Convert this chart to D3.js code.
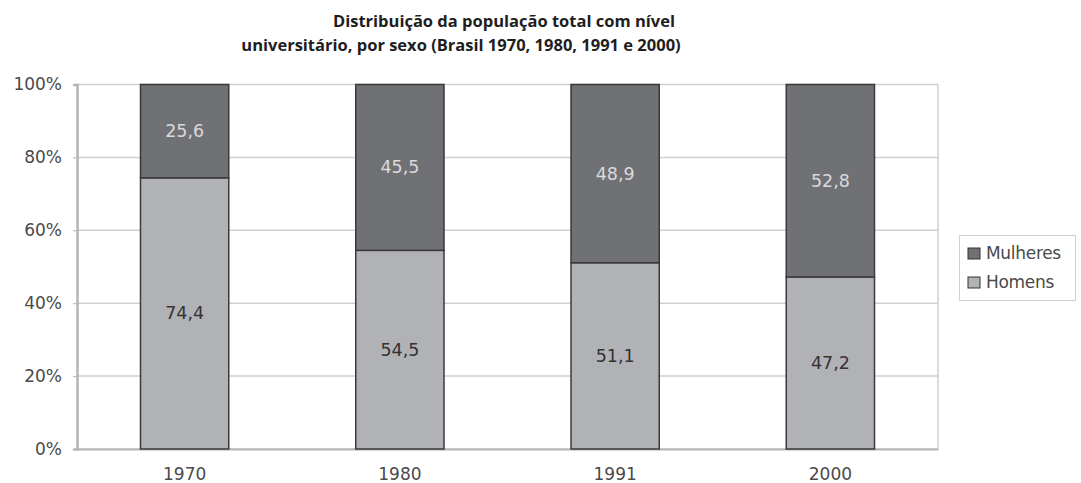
<!DOCTYPE html>
<html>
<head>
<meta charset="utf-8">
<script src="https://cdn.jsdelivr.net/npm/d3@7"></script>
<style>
  body { margin: 0; background: #fff; }
  svg text { font-family: "DejaVu Sans", sans-serif; }
</style>
</head>
<body>
<div id="graph"></div>
<script>
'use strict';

// data
const years = ['1970', '1980', '1991', '2000'];
const homens = [74.4, 54.5, 51.1, 47.2];
const mulheres = [25.6, 45.5, 48.9, 52.8];
const yTicks = [0, 20, 40, 60, 80, 100];
const seriesNames = ['Mulheres', 'Homens'];

const measurements = {
    width: 1081,
    height: 483,
    left: 77,
    right: 938,
    top: 84.5,
    bottom: 449
};

const colors = { Mulheres: '#707175', Homens: '#b1b2b6' };

let svg = d3.select('#graph')
    .append('svg')
    .attr('width', measurements.width)
    .attr('height', measurements.height);

// title
let title = svg.append('text')
    .attr('text-anchor', 'middle')
    .style('font-family', '"Open Sans", "Noto Sans", sans-serif')
    .style('font-weight', 'bold')
    .style('font-size', '16.5px')
    .attr('fill', '#1e1e1e');
title.append('tspan').attr('x', 504).attr('y', 27).text('Distribuição da população total com nível');
title.append('tspan').attr('x', 461).attr('y', 51).text('universitário, por sexo (Brasil 1970, 1980, 1991 e 2000)');

let xScale = d3.scaleBand()
    .domain(years)
    .range([measurements.left, measurements.right])
    .paddingInner(0.59)
    .paddingOuter(0.295);

let yScale = d3.scaleLinear()
    .domain([0, 100])
    .range([measurements.bottom, measurements.top]);

// gridlines
svg.append('g')
    .selectAll('line')
    .data(yTicks)
    .enter()
    .append('line')
    .attr('x1', measurements.left)
    .attr('x2', measurements.right)
    .attr('y1', d => yScale(d))
    .attr('y2', d => yScale(d))
    .attr('stroke', '#cfcfcf')
    .attr('stroke-width', 1.5);

// right border of plot area
svg.append('line')
    .attr('x1', measurements.right).attr('x2', measurements.right)
    .attr('y1', measurements.top).attr('y2', measurements.bottom)
    .attr('stroke', '#cfcfcf').attr('stroke-width', 1.5);

// y axis
let yAxis = d3.axisLeft(yScale)
    .tickValues(yTicks)
    .tickSize(4)
    .tickFormat(d => d + '%');
let yG = svg.append('g')
    .attr('transform', 'translate(' + measurements.left + ',0)')
    .call(yAxis);
yG.select('.domain').attr('stroke', '#b5b5b5').attr('stroke-width', 2.5);
yG.selectAll('.tick line').attr('stroke', '#b5b5b5');
yG.selectAll('.tick text')
    .attr('x', -15)
    .style('font-size', '17px')
    .style('font-family', '"DejaVu Sans", sans-serif')
    .attr('fill', '#4a4a4a');

// x axis labels
let xG = svg.append('g')
    .attr('transform', 'translate(0,' + measurements.bottom + ')')
    .call(d3.axisBottom(xScale).tickSize(0));
xG.select('.domain').attr('stroke', '#b5b5b5').attr('stroke-width', 2);
xG.selectAll('.tick text')
    .attr('dy', 0)
    .attr('y', 31)
    .style('font-size', '17px')
    .style('font-family', '"DejaVu Sans", sans-serif')
    .attr('fill', '#4a4a4a');

// bars
let rows = years.map((y, i) => ({ year: y, Homens: homens[i], Mulheres: mulheres[i] }));
let stacked = d3.stack().keys(['Homens', 'Mulheres'])(rows);

let layers = svg.append('g')
    .selectAll('g')
    .data(stacked)
    .enter()
    .append('g')
    .attr('fill', d => colors[d.key]);

layers.selectAll('rect')
    .data(d => d)
    .enter()
    .append('rect')
    .attr('x', d => xScale(d.data.year))
    .attr('width', xScale.bandwidth())
    .attr('y', d => yScale(d[1]))
    .attr('height', d => yScale(d[0]) - yScale(d[1]))
    .attr('stroke', '#3a3a3a')
    .attr('stroke-width', 1.5);

// value labels
stacked.forEach(function(layer) {
    svg.append('g')
        .selectAll('text')
        .data(layer)
        .enter()
        .append('text')
        .attr('x', d => xScale(d.data.year) + xScale.bandwidth() / 2)
        .attr('y', d => (yScale(d[0]) + yScale(d[1])) / 2 + 6)
        .attr('text-anchor', 'middle')
        .style('font-size', '17.5px')
        .attr('fill', layer.key === 'Mulheres' ? '#dadada' : '#333')
        .text(d => d3.format('.1f')(d.data[layer.key]).replace('.', ','));
});

// legend
let legend = svg.append('g');
legend.append('rect')
    .attr('x', 959.5).attr('y', 235.5)
    .attr('width', 116).attr('height', 65)
    .attr('fill', '#fff')
    .attr('stroke', '#d0d0d0');

let items = legend.selectAll('.item')
    .data(seriesNames)
    .enter()
    .append('g')
    .attr('transform', (d, i) => 'translate(968,' + (248 + i * 29) + ')');
items.append('rect')
    .attr('width', 12).attr('height', 11)
    .attr('fill', d => colors[d])
    .attr('stroke', '#333');
items.append('text')
    .attr('x', 18).attr('y', 11)
    .style('font-size', '17px')
    .style('letter-spacing', '-0.3px')
    .attr('fill', '#4a4a4a')
    .text(d => d);
</script>
</body>
</html>
